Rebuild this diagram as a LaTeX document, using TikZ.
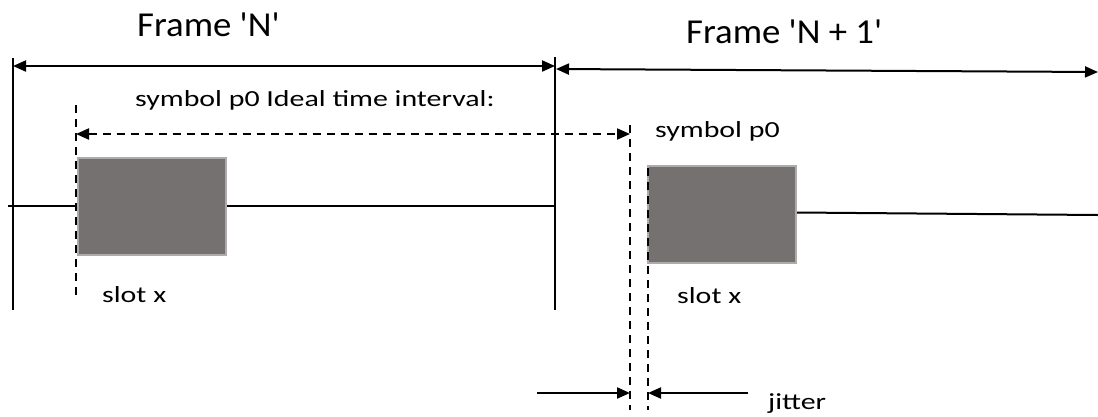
\documentclass[tikz,border=0pt]{standalone}
\usepackage{fontspec}
\setmainfont{Carlito}
\newfontfamily\widefont[FakeStretch=1.3]{Carlito}
\newfontfamily\titlefont[FakeStretch=1.05]{Carlito}
\usetikzlibrary{arrows.meta}
\definecolor{boxfill}{HTML}{767171}
\definecolor{boxedge}{HTML}{AFABAB}
\begin{document}
\begin{tikzpicture}[x=1pt,y=-1pt,
  solid line/.style={line width=2pt,black},
  dash line/.style={line width=2pt,black,dash pattern=on 8pt off 6pt},
  tip/.style={-{Triangle[length=13pt,width=11pt]}},
  both tips/.style={{Triangle[length=13pt,width=11pt]}-{Triangle[length=13pt,width=11pt]}},
  slotbox/.style={draw=boxedge,line width=2pt,fill=boxfill,minimum width=148pt,minimum height=97pt,inner sep=0pt,anchor=north west},
  label text/.style={font=\widefont\fontsize{23}{26}\selectfont,inner sep=0pt,anchor=base west},
  title text/.style={font=\titlefont\fontsize{35}{40}\selectfont,inner sep=0pt,anchor=base west}]
\useasboundingbox (0,0) rectangle (1098,416);
% frame boundary lines
\coordinate (fa top) at (13,58);
\coordinate (fa bot) at (13,310);
\coordinate (fb top) at (555,57);
\coordinate (fb bot) at (555,310);
\draw[solid line] (fa top) -- (fa bot);
\draw[solid line] (fb top) -- (fb bot);
% frame arrows
\coordinate (fa arrow) at (13,66);
\coordinate (fb arrow l) at (555,66);
\coordinate (fb arrow r) at (556,69);
\coordinate (fc arrow) at (1098,72);
\draw[solid line,both tips] (fa arrow) -- (fb arrow l);
\draw[solid line,both tips] (fb arrow r) -- (fc arrow);
% titles
\node[title text] (title n) at (137,36) {Frame 'N'};
\node[title text] (title n1) at (686,43) {Frame 'N + 1'};
% time lines and slots
\node[slotbox] (slot a) at (77,157) {};
\node[slotbox] (slot b) at (647,165) {};
\coordinate (line a start) at (8,206);
\coordinate (line a end) at (555,206);
\coordinate (line b end) at (1098,215);
\draw[solid line] (line a start) -- (slot a.west |- line a start);
\draw[solid line] (slot a.east |- line a start) -- (line a end);
\draw[solid line] (slot b.east) ++(0,-2) coordinate (line b start) -- (line b end);
% dashed verticals
\coordinate (da top) at (76,105);
\coordinate (da bot) at (76,300);
\coordinate (db top) at (630,125);
\coordinate (db bot) at (630,410);
\coordinate (dc top) at (648,168);
\coordinate (dc bot) at (648,410);
\draw[dash line] (da top) -- (da bot);
\draw[dash line] (db top) -- (db bot);
\draw[dash line] (dc top) -- (dc bot);
% ideal interval arrow
\coordinate (ia l) at (76,134);
\coordinate (ia r) at (630,134);
\draw[dash line,both tips] (ia l) -- (ia r);
% labels
\node[label text] (ideal) at (135,106) {symbol p0 Ideal time interval:};
\node[label text] (sym b) at (655,137) {symbol p0};
\node[label text] (slot a lbl) at (102,302) {slot x};
\node[label text] (slot b lbl) at (677,303) {slot x};
% jitter arrows
\coordinate (ja start) at (537,393);
\coordinate (ja end) at (630,393);
\coordinate (jb start) at (748,393);
\coordinate (jb end) at (648,393);
\draw[solid line,tip] (ja start) -- (ja end);
\draw[solid line,tip] (jb start) -- (jb end);
\node[label text] (jitter) at (768,409) {jitter};
\end{tikzpicture}
\end{document}
